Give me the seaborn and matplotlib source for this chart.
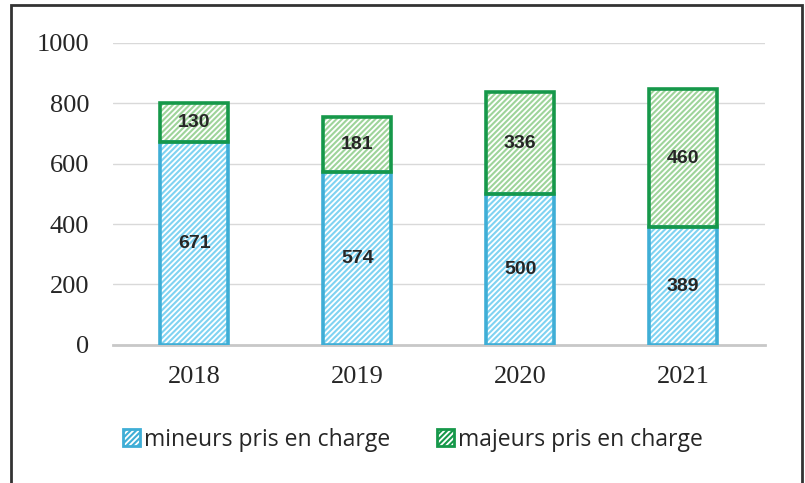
import matplotlib
matplotlib.use("Agg")
import matplotlib.pyplot as plt
import seaborn as sns
import pandas as pd
from matplotlib.patches import Patch, Rectangle

years = ["2018", "2019", "2020", "2021"]
mineurs = [671, 574, 500, 389]
majeurs = [130, 181, 336, 460]
labels = ["mineurs pris en charge", "majeurs pris en charge"]

blue_edge = "#3FAED6"
blue_hatch = "#7FD3F2"
green_edge = "#16984A"
green_hatch = "#9ED49A"

sns.set_theme(style="white")
plt.rcParams["hatch.linewidth"] = 1.5

df = pd.DataFrame({"annee": years, "mineurs": mineurs, "majeurs": majeurs})

fig = plt.figure(figsize=(8.05, 4.83), dpi=100)
ax = fig.add_axes([0.140, 0.286, 0.810, 0.625])

bw = 0.42
# bottom segment (hatched fill, then outline)
sns.barplot(data=df, x="annee", y="mineurs", color="white", width=bw,
            hatch="//////", edgecolor=blue_hatch, linewidth=0, ax=ax, zorder=2)
sns.barplot(data=df, x="annee", y="mineurs", color=blue_edge, fill=False, width=bw,
            edgecolor=blue_edge, linewidth=2.6, ax=ax, zorder=3)
# top segment
sns.barplot(data=df, x="annee", y="majeurs", bottom=mineurs, color="white",
            width=bw, hatch="//////", edgecolor=green_hatch, linewidth=0, ax=ax, zorder=2)
sns.barplot(data=df, x="annee", y="majeurs", bottom=mineurs, color=green_edge,
            fill=False, width=bw, edgecolor=green_edge, linewidth=2.6, ax=ax, zorder=3)

for i, (a, b) in enumerate(zip(mineurs, majeurs)):
    ax.text(i, a / 2, str(a), ha="center", va="center", fontsize=14,
            fontweight="bold", color="#262626", family="Liberation Sans", zorder=5)
    ax.text(i, a + b / 2, str(b), ha="center", va="center", fontsize=14,
            fontweight="bold", color="#262626", family="Liberation Sans", zorder=5)

ax.set_ylim(0, 1000)
ax.set_xlim(-0.5, 3.5)
ax.set_yticks(range(0, 1001, 200))
ax.grid(axis="y", color="#D9D9D9", linewidth=1, zorder=0)
ax.set_axisbelow(True)
for s in ["top", "right", "left"]:
    ax.spines[s].set_visible(False)
ax.spines["bottom"].set_color("#C8C8C8")
ax.spines["bottom"].set_linewidth(2)
ax.set_xlabel("")
ax.set_ylabel("")
ax.tick_params(axis="both", length=0, labelsize=19, colors="#262626")
for t in ax.get_xticklabels() + ax.get_yticklabels():
    t.set_family("Liberation Serif")
ax.tick_params(axis="x", pad=15)
ax.tick_params(axis="y", pad=17)

handles = [
    Patch(facecolor="white", edgecolor=blue_edge, hatch="//////", linewidth=2),
    Patch(facecolor="white", edgecolor=green_edge, hatch="//////", linewidth=2),
]
fig.legend(handles, labels, loc="center", bbox_to_anchor=(0.513, 0.09), ncol=2,
           frameon=False, prop={"family": "Open Sans", "size": 16.5},
           handlelength=0.75, handleheight=0.75, handletextpad=0.2, columnspacing=2.0)

fig.add_artist(Rectangle((11 / 805, -0.05), 791 / 805, 1.05 - 5 / 483,
                         transform=fig.transFigure, fill=False,
                         edgecolor="#333333", linewidth=2))

fig.savefig("out.png", dpi=100)
